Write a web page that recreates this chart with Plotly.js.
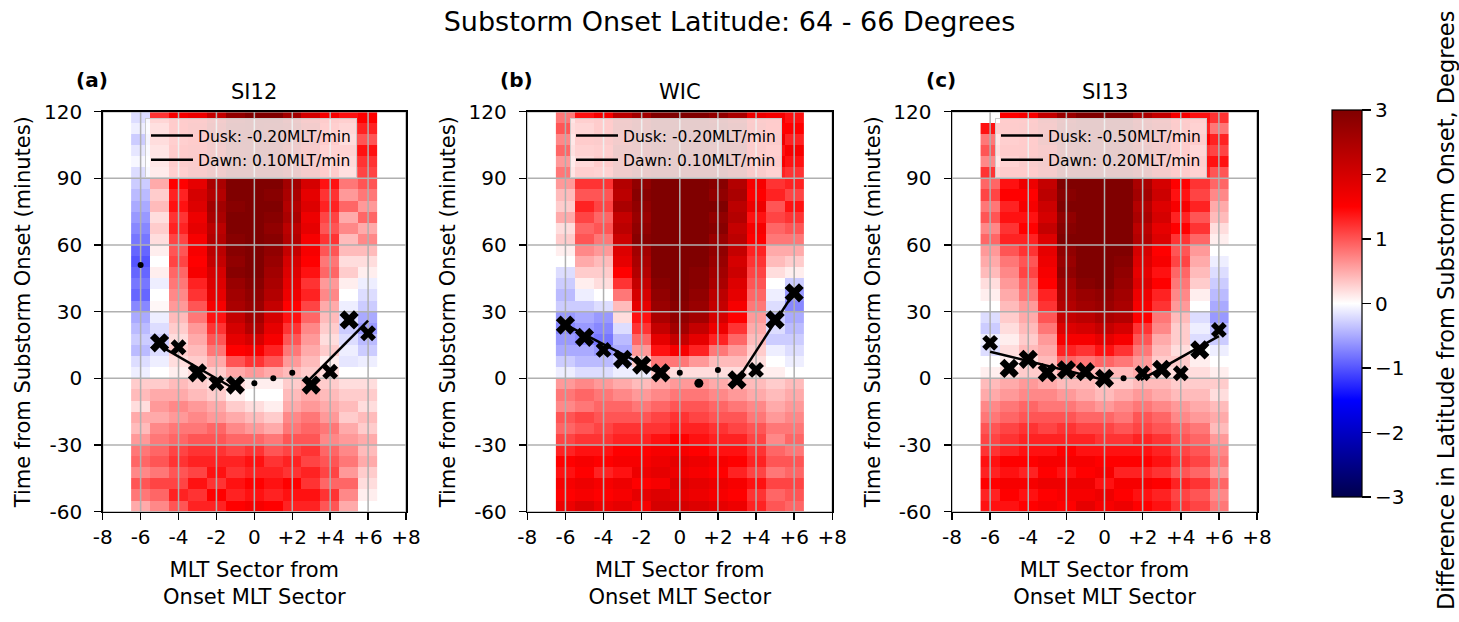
<!DOCTYPE html>
<html>
<head>
<meta charset="utf-8">
<script src="https://cdn.plot.ly/plotly-3.0.1.min.js"></script>
<style>html,body{margin:0;padding:0;background:#fff;}#chart{width:1459px;height:622px;}</style>
</head>
<body>
<div id="chart"></div>
<script>
// ---------------- DATA ----------------
const mltSectors = [-6,-5,-4,-3,-2,-1,0,1,2,3,4,5,6];
const timeBins = [117.5,112.5,107.5,102.5,97.5,92.5,87.5,82.5,77.5,72.5,67.5,62.5,57.5,52.5,47.5,42.5,37.5,32.5,27.5,22.5,17.5,12.5,7.5,2.5,-2.5,-7.5,-12.5,-17.5,-22.5,-27.5,-32.5,-37.5,-42.5,-47.5,-52.5,-57.5];
const xTickVals = [-8,-6,-4,-2,0,2,4,6,8];
const xTickText = ["-8","-6","-4","-2","0","+2","+4","+6","+8"];
const yTickVals = [-60,-30,0,30,60,90,120];
const yTickText = ["-60","-30","0","30","60","90","120"];
const cbTickVals = [-3,-2,-1,0,1,2,3];

const panelNames = ["SI12","WIC","SI13"];
const panelLetters = ["(a)","(b)","(c)"];

// z per panel: one array per MLT sector column, values top (117.5 min) to bottom (-57.5 min)
const zSI12 = [
 [-0.2,-0.1,-0.3,-0.15,-0.05,-0.2,-0.3,-0.4,-0.5,-0.6,-0.7,-0.8,-0.9,-1.0,-0.9,-0.8,-0.9,-0.7,-0.5,-0.4,-0.3,-0.4,-0.2,-0.1,0.3,0.4,0.2,0.5,0.4,0.6,0.8,0.9,0.7,1.0,0.8,0.5],
 [1.2,0.9,1.0,0.8,0.7,0.6,0.5,0.3,0.4,0.2,0.3,0.2,0.1,0.0,0.1,-0.1,0.0,0.05,-0.1,-0.2,-0.3,-0.2,-0.1,0.0,0.3,0.5,0.6,0.5,0.7,0.8,0.9,1.0,0.8,1.1,0.9,0.7],
 [1.6,1.5,1.4,1.5,1.6,1.4,1.5,1.3,1.4,1.2,1.3,1.1,1.0,1.1,0.9,0.8,0.7,0.6,0.4,0.3,0.2,0.3,0.2,0.1,0.4,0.5,0.7,0.6,0.8,0.9,1.1,1.2,1.0,1.1,1.3,1.0],
 [1.7,1.8,1.6,1.7,1.8,1.9,1.8,2.0,1.9,1.7,1.8,1.6,1.6,1.5,1.6,1.3,1.2,1.0,0.8,0.6,0.5,0.4,0.3,0.2,0.3,0.4,0.6,0.7,0.8,1.0,1.2,1.3,1.1,1.4,1.2,1.3],
 [2.2,2.4,2.3,2.2,2.5,2.4,2.5,2.4,2.6,2.5,2.3,2.4,2.3,2.2,2.0,1.9,1.8,1.6,1.4,1.2,1.0,0.8,0.5,0.3,0.2,0.3,0.5,0.6,0.9,1.0,1.2,1.3,1.4,1.2,1.5,1.3],
 [2.8,2.9,3.0,2.9,3.0,3.0,3.0,3.0,2.9,3.0,3.0,2.9,2.9,2.8,2.9,2.7,2.6,2.5,2.2,2.0,1.8,1.5,1.0,0.5,0.2,0.1,0.3,0.5,0.7,0.9,1.1,1.3,1.2,1.4,1.3,1.5],
 [3,3,3,3,3,3,3,3,3,3,3,3,3,3,3,2.9,2.8,2.7,2.6,2.4,2.0,1.6,1.2,0.6,0.1,0.0,0.2,0.4,0.6,0.9,1.2,1.4,1.3,1.5,1.4,1.6],
 [3.0,2.9,3.0,3.0,2.9,3.0,3.0,2.9,3.0,2.9,2.8,2.9,2.8,2.7,2.6,2.5,2.4,2.2,2.0,1.8,1.6,1.3,1.0,0.5,0.1,0.0,0.1,0.3,0.5,0.8,1.0,1.2,1.3,1.4,1.3,1.5],
 [2.6,2.8,2.7,2.5,2.6,2.7,2.6,2.5,2.4,2.5,2.3,2.4,2.2,2.0,1.9,1.8,1.7,1.5,1.4,1.2,1.0,0.8,0.6,0.4,0.3,0.4,0.5,0.7,0.8,1.0,1.1,1.3,1.2,1.5,1.4,1.3],
 [2.0,2.2,2.1,1.9,2.0,2.1,2.0,1.8,1.9,1.7,1.8,1.6,1.6,1.5,1.4,1.2,1.3,1.1,0.9,0.7,0.6,0.5,0.4,0.3,0.4,0.5,0.6,0.8,0.9,1.0,1.2,1.1,1.3,1.2,1.4,1.3],
 [1.6,1.4,1.5,1.3,1.4,1.5,1.4,1.2,1.3,1.1,1.0,1.2,1.0,0.8,0.9,0.6,0.7,0.5,0.4,0.3,0.2,0.3,0.1,0.2,0.3,0.4,0.5,0.6,0.8,0.7,0.9,1.0,1.1,0.9,1.2,1.0],
 [1.4,1.2,1.0,1.3,1.1,0.9,0.8,0.6,0.9,0.5,0.7,0.4,0.4,0.2,0.3,0.1,0.0,-0.1,-0.2,-0.3,-0.2,-0.1,-0.15,0.0,0.2,0.3,0.4,0.3,0.5,0.6,0.7,0.8,0.6,0.9,0.7,0.5],
 [1.5,1.3,1.0,1.4,1.2,1.1,1.0,0.8,0.6,0.9,0.5,0.7,0.4,0.2,0.1,-0.1,-0.2,-0.3,-0.5,-0.6,-0.4,-0.3,-0.1,0.0,0.2,0.3,0.2,0.4,0.3,0.5,0.4,0.5,0.3,0.2,0.1,0.0]
];
const zWIC = [
 [0.8,1.0,0.7,0.9,0.6,0.8,0.6,0.4,0.3,0.5,0.2,0.3,0.1,0.0,-0.2,-0.3,-0.4,-0.3,-0.6,-0.7,-0.6,-0.5,-0.3,-0.1,0.6,0.8,0.7,1.0,0.9,1.1,1.3,1.5,1.4,1.6,1.5,1.7],
 [1.4,1.2,1.5,1.3,1.1,1.4,1.2,1.0,1.3,1.1,0.9,1.0,0.7,0.5,0.3,0.1,-0.1,-0.3,-0.5,-0.6,-0.7,-0.5,-0.4,-0.2,0.7,0.9,0.8,1.1,1.0,1.2,1.4,1.6,1.5,1.7,1.6,1.9],
 [1.6,1.5,1.7,1.4,1.5,1.3,1.2,1.0,1.1,0.9,1.0,0.8,0.6,0.4,0.3,0.2,0.0,-0.2,-0.6,-0.7,-0.8,-0.6,-0.4,-0.2,0.6,0.8,0.9,1.0,1.1,1.2,1.4,1.5,1.3,1.6,1.5,1.7],
 [2.3,2.4,2.2,2.5,2.3,2.4,2.4,2.3,2.5,2.2,2.3,2.1,1.9,1.8,1.5,1.2,0.8,0.4,0.2,-0.2,-0.4,-0.5,-0.3,-0.1,0.5,0.7,0.9,1.0,1.2,1.3,1.5,1.6,1.4,1.7,1.6,1.8],
 [2.6,2.7,2.8,2.6,2.7,2.8,2.8,2.9,2.8,2.7,2.8,2.9,2.6,2.5,2.4,2.2,2.0,1.8,1.4,1.2,0.9,0.6,0.3,-0.1,0.4,0.6,0.8,1.0,1.2,1.3,1.5,1.6,1.7,1.5,1.8,1.6],
 [3,3,3,3,3,3,3,3,3,3,3,3,3,3,3,2.9,2.8,2.7,2.5,2.2,1.8,1.4,0.8,0.3,0.5,0.7,0.9,1.1,1.2,1.4,1.6,1.7,1.8,1.6,1.9,2.0],
 [3,3,3,3,3,3,3,3,3,3,3,3,3,3,3,3,3,2.9,2.8,2.6,2.2,1.6,0.8,0.2,0.6,0.8,1.0,1.2,1.3,1.5,1.6,1.8,1.7,1.9,1.8,2.0],
 [3,3,3,3,3,3,3,3,3,3,3,3,3,3,2.9,2.9,2.8,2.7,2.6,2.2,1.8,1.3,0.6,0.2,0.6,0.8,1.0,1.1,1.3,1.4,1.5,1.7,1.6,1.8,1.7,1.9],
 [2.8,2.9,3.0,2.8,2.9,3.0,2.9,2.8,3.0,2.8,2.9,2.7,2.8,2.7,2.6,2.5,2.3,2.2,2.0,1.7,1.3,0.8,0.4,0.2,0.5,0.7,0.9,1.0,1.2,1.3,1.4,1.6,1.5,1.7,1.6,1.8],
 [2.5,2.7,2.6,2.8,2.5,2.6,2.4,2.5,2.3,2.4,2.2,2.3,2.2,2.0,2.1,1.9,1.8,1.6,1.5,1.2,0.9,0.6,0.4,0.2,0.4,0.6,0.8,1.0,1.1,1.3,1.4,1.5,1.3,1.6,1.5,1.7],
 [1.7,1.8,1.6,1.7,1.5,1.8,1.6,1.5,1.7,1.4,1.6,1.5,1.3,1.2,1.1,1.0,0.9,0.8,0.6,0.5,0.4,0.3,0.2,0.1,0.4,0.5,0.7,0.8,1.0,1.1,1.2,1.3,1.1,1.4,1.2,1.3],
 [1.6,1.5,1.7,1.4,1.6,1.3,1.2,1.3,1.0,1.1,0.9,0.8,0.5,0.4,0.2,0.0,-0.1,-0.2,-0.3,-0.2,-0.3,-0.1,0.0,0.1,0.3,0.4,0.5,0.6,0.8,0.7,0.9,1.0,0.8,1.1,0.9,1.0],
 [1.4,1.5,1.3,1.6,1.4,1.2,1.3,1.1,1.4,1.2,1.0,0.8,0.5,0.3,0.1,-0.3,-0.6,-0.7,-0.5,-0.4,-0.3,-0.2,-0.1,0.0,0.4,0.5,0.6,0.7,0.8,0.9,0.8,1.0,0.9,1.1,1.0,0.9]
];
const zSI13 = [
 [0.0,1.4,0.8,1.0,0.7,1.2,0.9,1.1,0.8,1.0,0.7,0.9,0.6,0.5,0.4,0.2,0.1,0.0,-0.2,-0.3,-0.1,-0.2,0.0,0.1,0.4,0.5,0.7,0.8,1.0,1.1,1.2,1.4,1.3,1.5,1.3,1.4],
 [1.5,1.6,1.4,1.5,1.3,1.6,1.4,1.5,1.3,1.4,1.2,1.3,1.0,0.8,0.7,0.6,0.5,0.4,0.3,0.2,0.1,0.2,0.1,0.2,0.5,0.6,0.8,0.9,1.1,1.2,1.3,1.5,1.4,1.6,1.5,1.4],
 [1.6,1.7,1.5,1.6,1.8,1.6,1.7,1.5,1.6,1.4,1.5,1.3,1.2,1.0,1.1,0.9,0.8,0.6,0.5,0.4,0.3,0.4,0.2,0.3,0.6,0.7,0.9,1.0,1.2,1.3,1.4,1.5,1.3,1.6,1.4,1.5],
 [2.2,2.1,2.3,2.0,2.2,2.1,2.2,2.3,2.1,2.0,2.2,1.9,1.8,1.7,1.6,1.5,1.3,1.2,1.0,0.8,0.6,0.5,0.4,0.3,0.5,0.7,0.8,1.0,1.1,1.3,1.4,1.6,1.5,1.7,1.5,1.6],
 [2.7,2.8,2.9,2.8,3.0,2.9,3.0,2.9,3.0,2.8,2.9,3.0,2.8,2.7,2.8,2.6,2.5,2.4,2.2,1.9,1.6,1.3,0.9,0.5,0.4,0.6,0.8,1.0,1.2,1.3,1.5,1.6,1.4,1.7,1.6,1.5],
 [3,3,3,3,3,3,3,3,3,3,3,3,3,3,3,2.9,2.7,2.6,2.3,2.0,1.6,1.2,0.8,0.4,0.4,0.5,0.7,0.9,1.1,1.3,1.4,1.6,1.5,1.7,1.6,1.8],
 [3,3,3,3,3,3,3,3,3,3,3,3,3,3,3,3,2.8,2.7,2.5,2.2,1.8,1.4,0.9,0.4,0.3,0.4,0.6,0.9,1.1,1.2,1.4,1.5,1.6,1.4,1.7,1.6],
 [3,3,3,3,3,3,3,3,3,3,3,3,3,2.9,2.8,2.7,2.6,2.5,2.4,2.0,1.6,1.2,0.8,0.4,0.3,0.5,0.7,0.8,1.0,1.2,1.4,1.5,1.3,1.6,1.5,1.7],
 [2.5,2.6,2.4,2.6,2.5,2.7,2.5,2.6,2.4,2.5,2.3,2.4,2.0,1.9,1.8,1.9,1.7,1.6,1.5,1.2,1.0,0.8,0.6,0.5,0.4,0.6,0.8,1.0,1.1,1.3,1.4,1.5,1.3,1.6,1.4,1.5],
 [2.2,2.3,2.1,2.2,2.0,2.1,2.0,2.1,1.9,2.0,1.8,1.9,1.5,1.6,1.4,1.5,1.3,1.2,0.8,0.7,0.5,0.4,0.3,0.2,0.4,0.5,0.7,0.9,1.0,1.2,1.3,1.4,1.2,1.5,1.3,1.4],
 [1.6,1.7,1.5,1.6,1.4,1.6,1.5,1.4,1.6,1.3,1.5,1.2,1.0,1.1,0.9,0.8,0.7,0.6,0.4,0.3,0.3,0.2,0.3,0.2,0.3,0.4,0.6,0.7,0.9,1.0,1.1,1.2,1.0,1.3,1.1,1.2],
 [1.4,1.3,1.5,1.2,1.4,1.3,1.2,1.1,1.3,1.0,1.2,0.9,0.6,0.5,0.4,0.3,0.1,0.0,-0.2,-0.1,-0.2,0.0,0.1,0.2,0.3,0.4,0.5,0.6,0.8,0.9,1.0,1.1,0.9,1.2,1.0,1.1],
 [1.2,0.8,1.3,1.1,1.4,1.0,0.9,0.7,0.5,0.4,0.2,0.1,0.0,-0.1,-0.2,-0.3,-0.4,-0.5,-0.6,-0.4,-0.3,-0.1,0.0,0.1,0.3,0.2,0.4,0.5,0.4,0.6,0.7,0.8,0.6,0.9,0.7,0.8]
];

// boundary point markers (MLT sector, minutes from onset)
const mSI12X = [-6,-5,-4,-3,-2,-1,0,1,2,3,4,5,6];
const mSI12Y = [51,16,14,2.5,-2.2,-3,-2.2,0,2.5,-3,3,26.3,20.3];
const mWICX  = [-6,-5,-4,-3,-2,-1,0,1,2,3,4,5,6];
const mWICY  = [24,18.5,12.8,8.6,6,2.5,2.5,-2.2,3.8,-0.7,3.8,26.3,38.5];
const mSI13X = [-6,-5,-4,-3,-2,-1,0,1,2,3,4,5,6];
const mSI13Y = [16,4.5,8.6,2.6,3.8,3,0,0,2.3,4.1,2.3,12.8,21.8];

// fitted boundary lines
const duskSI12X = [-5.25,-1.2], duskSI12Y = [16,-4];
const dawnSI12X = [2.8,6.0],    dawnSI12Y = [-1.5,26];
const duskWICX  = [-6.3,-0.7],  duskWICY  = [25.5,0.7];
const dawnWICX  = [3.0,6.1],    dawnWICY  = [-1,40];
const duskSI13X = [-6.0,0.0],   duskSI13Y = [12,-0.7];
const dawnSI13X = [1.9,6.0],    dawnSI13Y = [-0.7,19];

const duskLabels = ["Dusk: -0.20MLT/min","Dusk: -0.20MLT/min","Dusk: -0.50MLT/min"];
const dawnLabels = ["Dawn: 0.10MLT/min","Dawn: 0.10MLT/min","Dawn: 0.20MLT/min"];
const cbLabel = "Difference in Latitude from Substorm Onset, Degrees";

// ---------------- STYLE ----------------
const markKindSI12 = ['o','X','x','X','x','X','o','o','o','X','x','X','x'];
const markKindWIC  = ['X','X','x','X','X','X','o','O','o','X','x','X','X'];
const markKindSI13 = ['x','X','X','X','X','X','X','o','x','X','x','X','x'];
const kindSymbol = {X:'x', x:'x', o:'circle', O:'circle'};
const kindSize = {X:17, x:14, o:6, O:9};

const FONT = 'DejaVu Sans, Verdana, sans-serif';
const W = 1459, H = 622;
const xDom = [[102.7,406],[527.3,832.3],[952,1257]].map(d => [d[0]/W, d[1]/W]);
const yDom = [(H-511.7)/H, (H-111.7)/H];

const seismic = [[0,'rgb(0,0,76)'],[0.25,'rgb(0,0,255)'],[0.5,'rgb(255,255,255)'],[0.75,'rgb(255,0,0)'],[1,'rgb(128,0,0)']];

const zs = [zSI12, zWIC, zSI13];
const mx = [mSI12X, mWICX, mSI13X];
const my = [mSI12Y, mWICY, mSI13Y];
const mk = [markKindSI12, markKindWIC, markKindSI13];
const dx = [duskSI12X, duskWICX, duskSI13X], dy = [duskSI12Y, duskWICY, duskSI13Y];
const wx = [dawnSI12X, dawnWICX, dawnSI13X], wy = [dawnSI12Y, dawnWICY, dawnSI13Y];

const traces = [];
const layout = {
  width: W, height: H,
  margin: {l:0, r:0, t:0, b:0},
  paper_bgcolor: '#fff', plot_bgcolor: '#fff',
  font: {family: FONT, size: 20, color: '#000'},
  showlegend: true,
  title: {text: 'Substorm Onset Latitude: 64 - 66 Degrees', x: 0.5, xanchor: 'center', y: (H-22)/H, yanchor: 'middle', font: {family: FONT, size: 27, color: '#000'}},
  annotations: [{
    text: cbLabel, xref: 'paper', yref: 'paper', x: 1446/W, y: (H-311)/H, xanchor: 'center', yanchor: 'middle',
    textangle: -90, showarrow: false, font: {family: FONT, size: 22.5, color: '#000'}
  }]
};

for (let p = 0; p < 3; p++) {
  const s = p === 0 ? '' : String(p+1);
  const xa = 'x' + s, ya = 'y' + s;
  const xRange = [xTickVals[0], xTickVals[xTickVals.length-1]];
  const yRange = [yTickVals[0], yTickVals[yTickVals.length-1]];

  const hm = {
    type: 'heatmap', x: mltSectors, y: timeBins, z: zs[p], transpose: true,
    xaxis: xa, yaxis: ya, colorscale: seismic, zmin: -3, zmax: 3, zsmooth: false,
    showscale: p === 0, showlegend: false, hoverinfo: 'skip'
  };
  if (p === 0) {
    hm.colorbar = {
      x: 1331.7/W, xanchor: 'left', xpad: 0, ypad: 0,
      y: (H-110)/H, yanchor: 'top', len: (496.7-110)/H, lenmode: 'fraction',
      thickness: 30, thicknessmode: 'pixels',
      outlinewidth: 1.2, outlinecolor: '#000',
      ticks: 'outside', ticklen: 9, tickwidth: 1.5, tickcolor: '#000',
      tickvals: cbTickVals, tickfont: {family: FONT, size: 20, color: '#000'}
    };
  }
  traces.push(hm);

  // grid lines built from the tick values (drawn above heatmap, below markers)
  const gx = [], gy = [];
  xTickVals.forEach(t => { gx.push(t, t, null); gy.push(yRange[0], yRange[1], null); });
  yTickVals.forEach(t => { gx.push(xRange[0], xRange[1], null); gy.push(t, t, null); });
  traces.push({type:'scatter', mode:'lines', x: gx, y: gy, xaxis: xa, yaxis: ya,
    line: {color: '#b0b0b0', width: 1.5}, showlegend: false, hoverinfo: 'skip'});

  const leg = p === 0 ? 'legend' : 'legend' + (p+1);
  traces.push({type:'scatter', mode:'lines', x: dx[p], y: dy[p], xaxis: xa, yaxis: ya,
    name: duskLabels[p], legend: leg, legendgroup: 'dusk'+p, line: {color:'#000', width: 2.5}, hoverinfo: 'skip'});
  traces.push({type:'scatter', mode:'lines', x: wx[p], y: wy[p], xaxis: xa, yaxis: ya,
    name: dawnLabels[p], legend: leg, legendgroup: 'dawn'+p, line: {color:'#000', width: 2.5}, hoverinfo: 'skip'});
  traces.push({type:'scatter', mode:'markers', x: mx[p], y: my[p], xaxis: xa, yaxis: ya,
    marker: {color: '#000', opacity: 1, symbol: mk[p].map(k => kindSymbol[k]), size: mk[p].map(k => kindSize[k]), line: {width: 0}},
    showlegend: false, hoverinfo: 'skip', cliponaxis: false});

  const axCommon = {
    showgrid: false, zeroline: false, showline: true, linecolor: '#000', linewidth: 1.5, mirror: true,
    ticks: 'outside', ticklen: 7, tickwidth: 1.5, tickcolor: '#000',
    tickfont: {family: FONT, size: 20, color: '#000'}, fixedrange: true
  };
  layout['xaxis' + s] = Object.assign({}, axCommon, {
    domain: xDom[p], range: xRange, anchor: ya, tickmode: 'array', tickvals: xTickVals, ticktext: xTickText,
    title: {text: 'MLT Sector from<br>Onset MLT Sector', font: {family: FONT, size: 21, color: '#000'}, standoff: 14}
  });
  layout['yaxis' + s] = Object.assign({}, axCommon, {
    domain: yDom, range: yRange, anchor: xa, tickmode: 'array', tickvals: yTickVals, ticktext: yTickText,
    ticklabelstandoff: 8,
    title: {text: 'Time from Substorm Onset (minutes)', font: {family: FONT, size: 21, color: '#000'}, standoff: 7}
  });

  layout[leg] = {
    x: [145, 570, 995][p]/W, xanchor: 'left', y: (H-118)/H, yanchor: 'top',
    bgcolor: 'rgba(255,255,255,0.8)', bordercolor: '#cccccc', borderwidth: 1,
    font: {family: FONT, size: 15.5, color: '#000'}, tracegroupgap: 1, itemwidth: 42
  };

  const cx = (xDom[p][0] + xDom[p][1]) / 2;
  layout.annotations.push({text: panelNames[p], xref: 'paper', yref: 'paper', x: cx, y: (H-92)/H,
    xanchor: 'center', yanchor: 'middle', showarrow: false, font: {family: FONT, size: 21, color: '#000'}});
  layout.annotations.push({text: '<b>' + panelLetters[p] + '</b>', xref: 'paper', yref: 'paper',
    x: xDom[p][0] - 11/W, y: (H-80)/H, xanchor: 'center', yanchor: 'middle', showarrow: false,
    font: {family: FONT, size: 20, color: '#000'}});
}

Plotly.newPlot('chart', traces, layout, {staticPlot: true, displayModeBar: false});
</script>
</body>
</html>
